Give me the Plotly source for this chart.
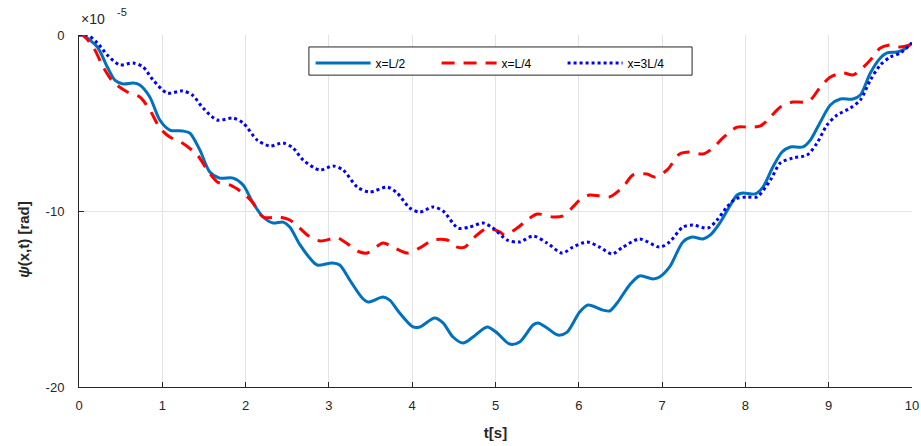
import plotly.graph_objects as go

t_half = [0, 0.04, 0.22, 0.34, 0.43, 0.53, 0.65, 0.73, 0.85, 0.97, 1.09, 1.24, 1.33, 1.45, 1.57, 1.69, 1.85, 1.97,
          2.09, 2.21, 2.33, 2.45, 2.53, 2.65, 2.77, 2.86, 3.04, 3.13, 3.25, 3.40, 3.47, 3.65, 3.73, 3.85, 4.01,
          4.09, 4.27, 4.37, 4.49, 4.61, 4.73, 4.90, 5.02, 5.17, 5.29, 5.45, 5.51, 5.62, 5.75, 5.86, 6.01, 6.11,
          6.29, 6.37, 6.46, 6.61, 6.73, 6.89, 6.97, 7.09, 7.25, 7.36, 7.49, 7.58, 7.70, 7.82, 7.90, 7.97, 8.12,
          8.21, 8.33, 8.44, 8.54, 8.69, 8.78, 8.90, 9.02, 9.14, 9.29, 9.38, 9.50, 9.62, 9.70, 9.82, 9.89, 10.0]
psi_half = [0, 0, -0.68, -1.82, -2.56, -2.78, -2.73, -2.84, -3.52, -4.83, -5.40, -5.45, -5.57, -6.53, -7.78, -8.13,
            -8.13, -8.52, -9.55, -10.34, -10.68, -10.63, -10.91, -11.9, -12.67, -13.07, -12.95, -13.07, -13.92,
            -14.94, -15.17, -14.89, -15.06, -15.80, -16.59, -16.59, -16.08, -16.36, -17.16, -17.50, -17.16, -16.59,
            -16.93, -17.56, -17.44, -16.48, -16.36, -16.65, -17.05, -16.88, -15.74, -15.34, -15.63, -15.68, -15.23,
            -14.20, -13.69, -13.86, -13.75, -13.18, -11.76, -11.48, -11.59, -11.36, -10.63, -9.66, -9.09, -8.98,
            -9.03, -8.64, -7.50, -6.65, -6.36, -6.36, -5.97, -4.94, -3.98, -3.64, -3.64, -3.41, -2.16, -1.31, -1.02,
            -0.97, -0.85, -0.45]

t_quarter = [0, 0.04, 0.17, 0.29, 0.41, 0.58, 0.73, 0.85, 0.97, 1.09, 1.24, 1.42, 1.54, 1.66, 1.81, 1.97, 2.09,
             2.21, 2.41, 2.53, 2.65, 2.74, 2.89, 3.10, 3.19, 3.37, 3.46, 3.65, 3.77, 3.94, 4.09, 4.25, 4.42, 4.54,
             4.63, 4.75, 4.90, 5.05, 5.11, 5.26, 5.38, 5.50, 5.69, 5.81, 5.93, 6.01, 6.13, 6.25, 6.37, 6.53, 6.65,
             6.82, 6.91, 7.06, 7.21, 7.33, 7.49, 7.61, 7.73, 7.90, 8.02, 8.18, 8.30, 8.42, 8.57, 8.69, 8.78, 8.90,
             9.02, 9.17, 9.29, 9.38, 9.50, 9.62, 9.74, 9.86, 9.98]
psi_quarter = [0, 0, -0.68, -1.82, -2.67, -3.24, -3.52, -4.26, -5.28, -5.80, -6.14, -6.82, -7.67, -8.35, -8.52,
               -8.98, -9.55, -10.34, -10.34, -10.51, -10.97, -11.36, -11.70, -11.53, -11.76, -12.33, -12.39, -11.82,
               -12.05, -12.39, -12.10, -11.65, -11.65, -12.05, -12.05, -11.48, -10.97, -11.19, -11.36, -10.97,
               -10.51, -10.17, -10.34, -10.28, -9.77, -9.38, -9.09, -9.15, -9.20, -8.64, -7.95, -7.90, -8.07, -7.67,
               -6.76, -6.65, -6.76, -6.42, -5.85, -5.23, -5.23, -5.17, -4.66, -4.09, -3.81, -3.81, -3.69, -2.95,
               -2.39, -2.16, -2.27, -1.99, -1.42, -0.74, -0.57, -0.68, -0.57]

t_3quarter = [0, 0.10, 0.22, 0.34, 0.49, 0.65, 0.77, 0.89, 1.06, 1.24, 1.36, 1.49, 1.66, 1.85, 1.97, 2.14, 2.29,
              2.45, 2.57, 2.69, 2.89, 3.05, 3.17, 3.34, 3.49, 3.70, 3.82, 3.97, 4.09, 4.25, 4.37, 4.55, 4.69, 4.85,
              4.97, 5.14, 5.29, 5.45, 5.62, 5.80, 5.93, 6.10, 6.25, 6.40, 6.53, 6.73, 6.97, 7.09, 7.25, 7.37, 7.55,
              7.66, 7.78, 7.88, 8.02, 8.14, 8.30, 8.42, 8.57, 8.74, 8.86, 8.98, 9.10, 9.26, 9.38, 9.50, 9.62, 9.74,
              9.86, 10.0]
psi_3quarter = [0, 0, -0.45, -1.14, -1.70, -1.59, -1.82, -2.56, -3.30, -3.18, -3.41, -4.15, -4.83, -4.72, -5.00,
                -5.97, -6.31, -6.14, -6.42, -7.10, -7.67, -7.44, -7.67, -8.64, -8.92, -8.64, -8.98, -9.83, -10.06,
                -9.77, -10.00, -10.97, -10.91, -10.68, -10.97, -11.65, -11.76, -11.42, -11.82, -12.39, -12.05,
                -11.76, -12.05, -12.44, -12.05, -11.59, -12.05, -11.76, -10.91, -10.80, -10.97, -10.51, -9.77,
                -9.32, -9.20, -9.20, -8.24, -7.27, -6.99, -6.82, -6.14, -5.11, -4.55, -4.15, -3.69, -2.56, -1.70,
                -1.25, -1.02, -0.45]

x_ticks = [0, 1, 2, 3, 4, 5, 6, 7, 8, 9, 10]
y_ticks = [-20, -10, 0]

FONT = "Liberation Sans, Arial, sans-serif"
AXC = "#262626"

fig = go.Figure()
fig.add_trace(go.Scatter(x=t_half, y=psi_half, mode="lines", name="x=L/2",
                         line=dict(color="#0072BD", width=3, shape="spline", smoothing=0.8)))
fig.add_trace(go.Scatter(x=t_quarter, y=psi_quarter, mode="lines", name="x=L/4",
                         line=dict(color="#FF0000", width=3, dash="13px,9px", shape="spline", smoothing=0.8)))
fig.add_trace(go.Scatter(x=t_3quarter, y=psi_3quarter, mode="lines", name="x=3L/4",
                         line=dict(color="#0000FF", width=3, dash="dot", shape="spline", smoothing=0.8)))

fig.update_layout(
    width=921, height=446,
    margin=dict(l=79, r=9, t=35, b=59, autoexpand=False),
    paper_bgcolor="white", plot_bgcolor="white",
    font=dict(family=FONT, size=12, color=AXC),
    legend=dict(orientation="h", x=0.278, y=0.962, xanchor="left", yanchor="top",
                borderwidth=0, bgcolor="rgba(0,0,0,0)",
                font=dict(family=FONT, size=12, color="#000000"),
                itemwidth=55, entrywidth=56, entrywidthmode="pixels"),
    xaxis=dict(range=[0, 10], tickvals=x_ticks, ticktext=[str(v) for v in x_ticks],
               showgrid=True, gridcolor="#e3e3e3", gridwidth=1,
               showline=True, linecolor=AXC, linewidth=1,
               ticks="inside", ticklen=5, tickcolor=AXC, automargin=False,
               tickfont=dict(size=13), ticklabelstandoff=6, zeroline=False,
               title=dict(text="<b>t[s]</b>", font=dict(size=15, color=AXC), standoff=15)),
    yaxis=dict(range=[-20, 0], tickvals=y_ticks, ticktext=[str(v) for v in y_ticks],
               showgrid=True, gridcolor="#e3e3e3", gridwidth=1,
               showline=True, linecolor=AXC, linewidth=1,
               ticks="inside", ticklen=5, tickcolor=AXC, automargin=False,
               tickfont=dict(size=13), ticklabelstandoff=11, zeroline=False),
    shapes=[dict(type="rect", xref="paper", yref="paper", x0=0.276, x1=0.736, y0=0.886, y1=0.966,
                 line=dict(color=AXC, width=1), fillcolor="white", layer="above")],
)
fig.add_annotation(xref="paper", yref="paper", x=0, y=1, xanchor="left", yanchor="bottom",
                   text="×10", showarrow=False,
                   font=dict(family=FONT, size=14, color=AXC), xshift=0, yshift=6)
fig.add_annotation(xref="paper", yref="paper", x=0, y=1, xanchor="left", yanchor="bottom",
                   text="-5", showarrow=False,
                   font=dict(family=FONT, size=11, color=AXC), xshift=36, yshift=15)
fig.add_annotation(xref="paper", yref="paper", x=0, y=0.418, xanchor="center", yanchor="middle",
                   text="<b><i>ψ</i>(x,t) [rad]</b>", textangle=-90, showarrow=False,
                   font=dict(family=FONT, size=15, color=AXC), xshift=-55)

fig.write_html("out.html", config={"displayModeBar": False},
               post_script="document.body.style.margin='0';")
